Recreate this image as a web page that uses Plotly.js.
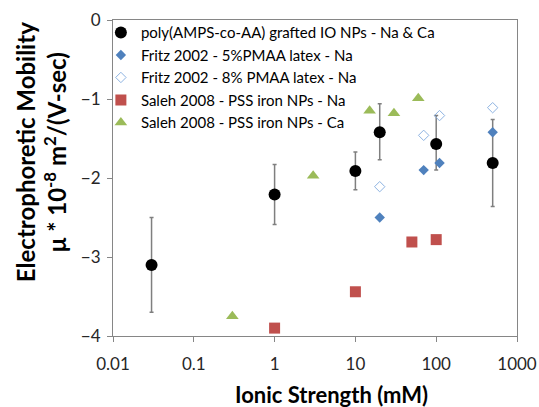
<!DOCTYPE html>
<html>
<head>
<meta charset="utf-8">
<script src="https://cdn.plot.ly/plotly-3.0.1.min.js"></script>
<style>html,body{margin:0;padding:0;background:#fff;}#chart{width:539px;height:407px;}</style>
</head>
<body>
<div id="chart"></div>
<script>
// poly(AMPS-co-AA) grafted IO NPs - Na & Ca
const ioX = [0.03, 1, 10, 20, 100, 500];
const ioY = [-3.10, -2.21, -1.91, -1.42, -1.57, -1.81];
const ioErrPlus = [0.60, 0.38, 0.24, 0.36, 0.36, 0.55];
const ioErrMinus = [0.60, 0.38, 0.24, 0.35, 0.33, 0.55];

// Fritz 2002 - 5%PMAA latex - Na
const f5X = [20, 70, 110, 500];
const f5Y = [-2.50, -1.90, -1.81, -1.42];

// Fritz 2002 - 8% PMAA latex - Na
const f8X = [20, 70, 110, 500];
const f8Y = [-2.11, -1.46, -1.21, -1.11];

// Saleh 2008 - PSS iron NPs - Na
const sNaX = [1, 10, 50, 100];
const sNaY = [-3.90, -3.44, -2.81, -2.78];

// Saleh 2008 - PSS iron NPs - Ca
const sCaX = [0.3, 3, 15, 30, 60];
const sCaY = [-3.75, -1.97, -1.15, -1.18, -0.99];

const xTicks = [0.01, 0.1, 1, 10, 100, 1000];
const xTickText = ['0.01', '0.1', '1', '10', '100', '1000'];
const yTicks = [0, -1, -2, -3, -4];

const xTitle = '<b>Ionic Strength (mM)</b>';
const yTitle = '<b>Electrophoretic Mobility<br>μ * 10<sup>-8</sup> m<sup>2</sup>/(V-sec)</b>';

const FONT = 'Lato, "Open Sans", sans-serif';

const traces = [
  {
    x: ioX, y: ioY, type: 'scatter', mode: 'markers',
    name: 'poly(AMPS-co-AA) grafted IO NPs - Na &amp; Ca',
    marker: {symbol: 'circle', size: 12, color: '#000000'},
    error_y: {type: 'data', symmetric: false, array: ioErrPlus, arrayminus: ioErrMinus,
              color: '#7f7f7f', thickness: 1.5, width: 2}
  },
  {
    x: f5X, y: f5Y, type: 'scatter', mode: 'markers',
    name: 'Fritz 2002 - 5%PMAA latex - Na',
    marker: {symbol: 'diamond', size: 8, color: '#4F81BD'}
  },
  {
    x: f8X, y: f8Y, type: 'scatter', mode: 'markers',
    name: 'Fritz 2002 - 8% PMAA latex - Na',
    marker: {symbol: 'diamond-open', size: 8, color: '#8DB3E2', line: {width: 1, color: '#8DB3E2'}}
  },
  {
    x: sNaX, y: sNaY, type: 'scatter', mode: 'markers',
    name: 'Saleh 2008 - PSS iron NPs - Na',
    marker: {symbol: 'square', size: 11, color: '#C0504D'}
  },
  {
    x: sCaX, y: sCaY, type: 'scatter', mode: 'markers',
    name: 'Saleh 2008 - PSS iron NPs - Ca',
    marker: {symbol: 'triangle-up', size: 11, color: '#9BBB59'}
  }
];

const layout = {
  width: 539, height: 407,
  margin: {l: 113, r: 22, t: 20, b: 71},
  paper_bgcolor: '#ffffff', plot_bgcolor: '#ffffff',
  font: {family: FONT, color: '#000000'},
  showlegend: true,
  legend: {
    x: -0.03, xanchor: 'left', y: 1.012, yanchor: 'top',
    bgcolor: 'rgba(0,0,0,0)', font: {family: FONT, size: 15, color: '#000'},
    traceorder: 'normal'
  },
  xaxis: {
    type: 'log', range: [-2, 3],
    tickvals: xTicks, ticktext: xTickText,
    ticks: 'outside', ticklen: 5, tickcolor: '#868686',
    showline: true, linecolor: '#868686', linewidth: 1, mirror: true,
    showgrid: false, zeroline: false,
    ticklabelstandoff: 8,
    tickfont: {family: FONT, size: 17, color: '#262626'}
  },
  yaxis: {
    range: [-4, 0],
    tickvals: yTicks,
    ticks: 'outside', ticklen: 5, tickcolor: '#868686',
    showline: true, linecolor: '#868686', linewidth: 1, mirror: true,
    showgrid: false, zeroline: false,
    ticklabelstandoff: 3,
    tickfont: {family: FONT, size: 17, color: '#262626'}
  },
  annotations: [
    {text: xTitle, xref: 'paper', yref: 'paper', x: 0.54, y: -0.185,
     xanchor: 'center', yanchor: 'middle', showarrow: false,
     font: {family: FONT, size: 22, color: '#000'}},
    {text: yTitle, xref: 'paper', yref: 'paper', x: -0.178, y: 0.582, textangle: -90,
     xanchor: 'center', yanchor: 'middle', showarrow: false,
     font: {family: FONT, size: 24, color: '#000'}}
  ]
};

Plotly.newPlot('chart', traces, layout, {displayModeBar: false, staticPlot: true});
</script>
</body>
</html>
